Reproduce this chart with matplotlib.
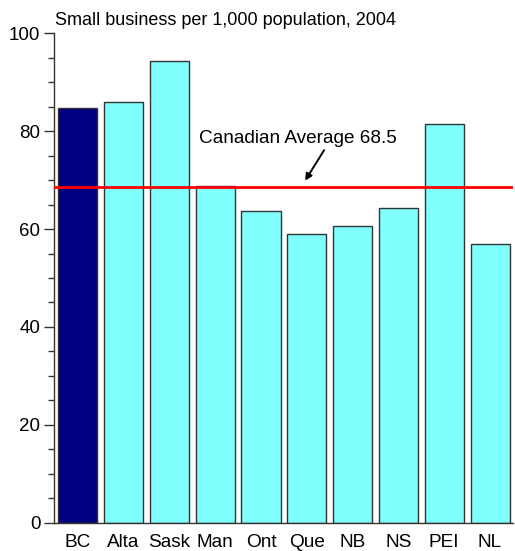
import matplotlib
matplotlib.use("Agg")
import matplotlib.pyplot as plt
from matplotlib.ticker import MultipleLocator

provinces = ["BC", "Alta", "Sask", "Man", "Ont", "Que", "NB", "NS", "PEI", "NL"]
per_thousand = [84.7, 85.9, 94.4, 68.7, 63.7, 59.0, 60.6, 64.2, 81.5, 56.9]
canadian_average = 68.5
title = "Small business per 1,000 population, 2004"

plt.rcParams["font.family"] = ["Liberation Sans", "DejaVu Sans"]

fig = plt.figure(figsize=(5.15, 5.51), dpi=100)
ax = fig.add_axes([0.1054, 0.0514, 0.8906, 0.8882])

colors = ["#000080"] + ["#80FFFF"] * (len(provinces) - 1)
x = range(len(provinces))
ax.bar(x, per_thousand, width=0.853, color=colors, edgecolor="#333333", linewidth=1.0, zorder=2)

ax.axhline(canadian_average, color="#FF0000", linewidth=2.0, zorder=3)
ax.annotate("", xy=(4.93, 69.4), xytext=(5.41, 76.6),
            arrowprops=dict(arrowstyle="-|>", color="black", lw=1.4, mutation_scale=10), zorder=4)
ax.text(2.65, 77.6, f"Canadian Average {canadian_average}", fontsize=13.7, ha="left", va="baseline", zorder=4)

ax.set_xlim(-0.514, 9.5)
ax.set_ylim(0, 100)
ax.set_xticks(list(x))
ax.set_xticklabels(provinces, fontsize=13.7)
ax.tick_params(axis="x", length=0, pad=8)
ax.yaxis.set_major_locator(MultipleLocator(20))
ax.yaxis.set_minor_locator(MultipleLocator(5))
ax.tick_params(axis="y", which="major", length=7, width=1, labelsize=13.5, color="#333333", pad=3)
ax.tick_params(axis="y", which="minor", length=4, width=1, color="#333333")
for side in ("top", "right"):
    ax.spines[side].set_visible(False)
for side in ("left", "bottom"):
    ax.spines[side].set_color("#333333")
    ax.spines[side].set_linewidth(1.0)

fig.text(0.107, 0.9546, title, fontsize=13, ha="left", va="baseline")

fig.savefig("out.png", dpi=100)
